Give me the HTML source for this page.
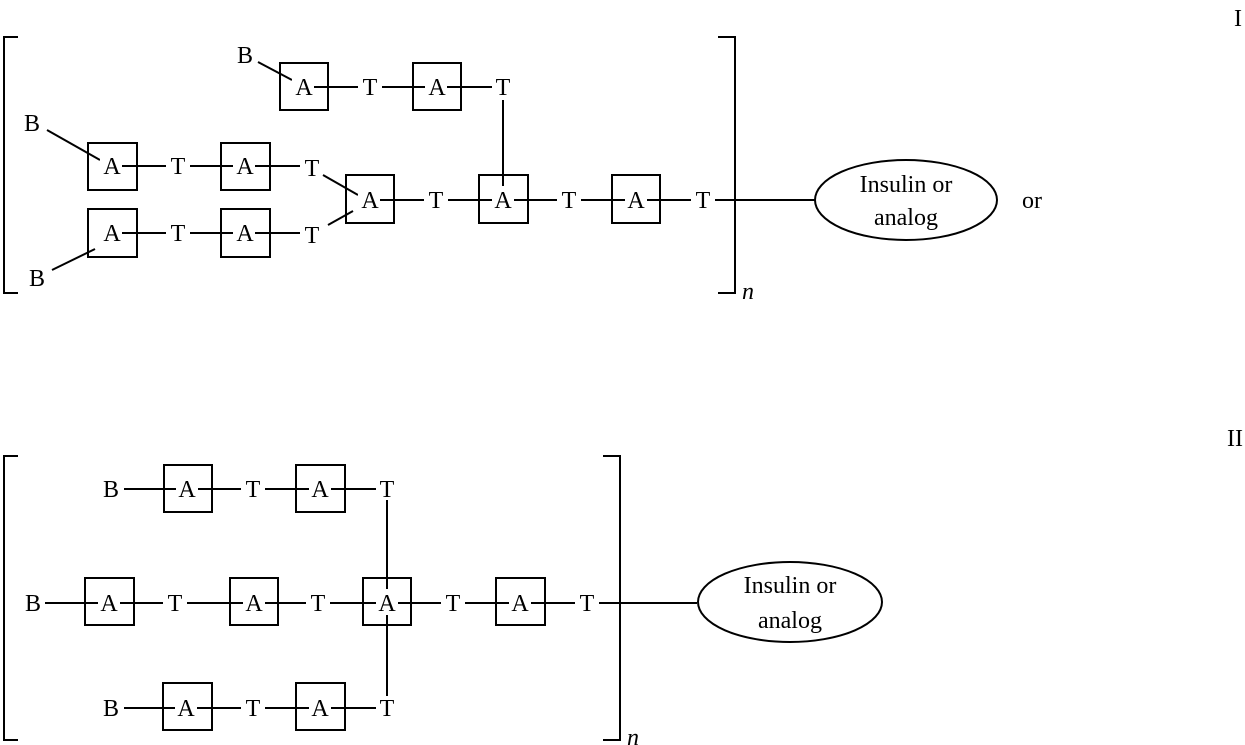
<!DOCTYPE html>
<html><head><style>body{margin:0;background:#fff}svg{display:block}text{font-family:"Liberation Serif",serif;font-size:24px;fill:#000}</style></head><body>
<svg width="1245" height="745" viewBox="0 0 1245 745" xmlns="http://www.w3.org/2000/svg" stroke="#000" stroke-width="2" fill="none">
<!-- Diagram I -->
<g>
<polyline points="18,37 4,37 4,293 18,293"/>
<polyline points="718,37 735,37 735,293 718,293"/>
<line x1="300" y1="87" x2="492" y2="87"/>
<line x1="110" y1="166" x2="300" y2="166"/>
<line x1="110" y1="233" x2="300" y2="233"/>
<line x1="370" y1="200" x2="815" y2="200"/>
<line x1="503" y1="100" x2="503" y2="200"/>
<line x1="47" y1="130" x2="100" y2="160"/>
<line x1="258" y1="62" x2="292" y2="80"/>
<line x1="52" y1="270" x2="95" y2="249"/>
<line x1="323" y1="175" x2="358" y2="195"/>
<line x1="328" y1="225" x2="353" y2="211"/>
<g fill="#fff" stroke="none">
<rect x="100" y="152" width="22" height="26"/><rect x="233" y="152" width="22" height="26"/>
<rect x="100" y="219" width="22" height="26"/><rect x="233" y="219" width="22" height="26"/>
<rect x="166" y="152" width="24" height="26"/><rect x="166" y="219" width="24" height="26"/>
<rect x="292" y="73" width="22" height="26"/><rect x="425" y="73" width="22" height="26"/>
<rect x="358" y="73" width="24" height="26"/>
<rect x="358" y="186" width="22" height="26"/><rect x="424" y="186" width="24" height="26"/>
<rect x="492" y="186" width="22" height="26"/><rect x="557" y="186" width="24" height="26"/>
<rect x="625" y="186" width="22" height="26"/><rect x="691" y="186" width="24" height="26"/>
</g>
<rect x="280" y="63" width="48" height="47"/><rect x="413" y="63" width="48" height="47"/>
<rect x="88" y="143" width="49" height="47"/><rect x="221" y="143" width="49" height="47"/>
<rect x="88" y="209" width="49" height="48"/><rect x="221" y="209" width="49" height="48"/>
<rect x="346" y="175" width="48" height="48"/><rect x="479" y="175" width="49" height="48"/><rect x="612" y="175" width="48" height="48"/>
<ellipse cx="906" cy="200" rx="91" ry="40"/>
</g>
<g stroke="none" text-anchor="middle">
<text x="245" y="63">B</text><text x="32" y="131">B</text><text x="37" y="286">B</text>
<text x="304" y="95">A</text><text x="370" y="95">T</text><text x="437" y="95">A</text><text x="503" y="95">T</text>
<text x="112" y="174">A</text><text x="178" y="174">T</text><text x="245" y="174">A</text><text x="312" y="176">T</text>
<text x="112" y="241">A</text><text x="178" y="241">T</text><text x="245" y="241">A</text><text x="312" y="243">T</text>
<text x="370" y="208">A</text><text x="436" y="208">T</text><text x="503" y="208">A</text><text x="569" y="208">T</text><text x="636" y="208">A</text><text x="703" y="208">T</text>
<text x="906" y="192">Insulin or</text><text x="906" y="225">analog</text>
<text x="1032" y="208">or</text>
<text x="1238" y="26">I</text>
<text x="748" y="299" font-style="italic" font-size="17">n</text>
</g>
<!-- Diagram II -->
<g>
<polyline points="18,456 4,456 4,740 18,740"/>
<polyline points="603,456 620,456 620,740 603,740"/>
<line x1="111" y1="489" x2="376" y2="489"/>
<line x1="33" y1="603" x2="697" y2="603"/>
<line x1="111" y1="708" x2="376" y2="708"/>
<line x1="387" y1="500" x2="387" y2="696"/>
<g fill="#fff" stroke="none">
<rect x="100" y="475" width="24" height="26"/><rect x="176" y="475" width="22" height="26"/><rect x="241" y="475" width="24" height="26"/><rect x="309" y="475" width="22" height="26"/>
<rect x="100" y="694" width="24" height="26"/><rect x="175" y="694" width="22" height="26"/><rect x="241" y="694" width="24" height="26"/><rect x="309" y="694" width="22" height="26"/>
<rect x="21" y="589" width="24" height="26"/><rect x="98" y="589" width="22" height="26"/><rect x="163" y="589" width="24" height="26"/><rect x="243" y="589" width="22" height="26"/><rect x="306" y="589" width="24" height="26"/><rect x="376" y="589" width="22" height="26"/><rect x="441" y="589" width="24" height="26"/><rect x="509" y="589" width="22" height="26"/><rect x="575" y="589" width="24" height="26"/>
</g>
<rect x="164" y="465" width="48" height="47"/><rect x="296" y="465" width="49" height="47"/>
<rect x="85" y="578" width="49" height="47"/><rect x="230" y="578" width="48" height="47"/><rect x="363" y="578" width="48" height="47"/><rect x="496" y="578" width="49" height="47"/>
<rect x="163" y="683" width="49" height="47"/><rect x="296" y="683" width="49" height="47"/>
<ellipse cx="790" cy="602" rx="92" ry="40"/>
</g>
<g stroke="none" text-anchor="middle">
<text x="111" y="497">B</text><text x="187" y="497">A</text><text x="253" y="497">T</text><text x="320" y="497">A</text><text x="387" y="497">T</text>
<text x="33" y="611">B</text><text x="109" y="611">A</text><text x="175" y="611">T</text><text x="254" y="611">A</text><text x="318" y="611">T</text><text x="387" y="611">A</text><text x="453" y="611">T</text><text x="520" y="611">A</text><text x="587" y="611">T</text>
<text x="111" y="716">B</text><text x="186" y="716">A</text><text x="253" y="716">T</text><text x="320" y="716">A</text><text x="387" y="716">T</text>
<text x="790" y="593">Insulin or</text><text x="790" y="628">analog</text>
<text x="1235" y="446">II</text>
<text x="633" y="745" font-style="italic" font-size="17">n</text>
</g>
</svg>
</body></html>
